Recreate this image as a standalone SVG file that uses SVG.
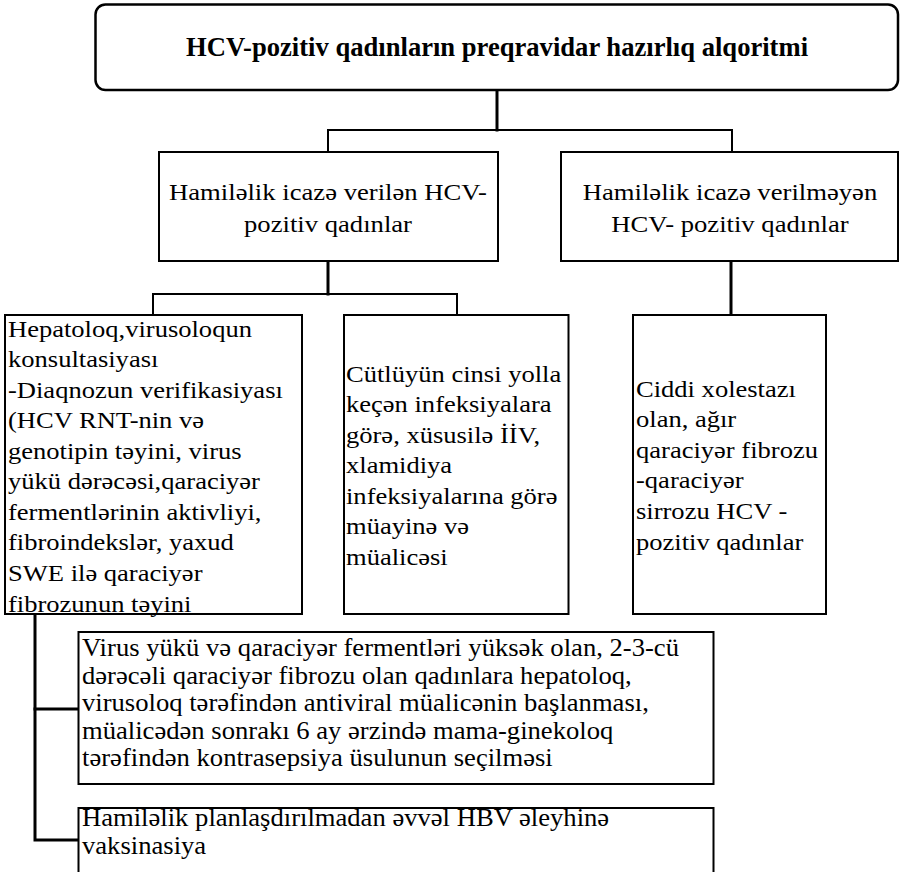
<svg xmlns="http://www.w3.org/2000/svg" width="901" height="872" viewBox="0 0 901 872">
<style>
.box{fill:#fff;stroke:#000;stroke-width:2}
.title-box{fill:#fff;stroke:#000;stroke-width:2.5}
.t{font-family:"Liberation Serif","DejaVu Serif",serif;fill:#000}
.tb{font-family:"Liberation Serif","DejaVu Serif",serif;font-weight:bold;fill:#000}
.c{fill:none;stroke:#000;stroke-linecap:square}
.thick{stroke-width:3}
.thin{stroke-width:2}
</style>
<rect x="0" y="0" width="901" height="872" fill="#fff"/>
<g id="connectors">
<path class="c thick" d="M497 90 V130"/>
<path class="c thin" d="M328 152 V130 H732 V152"/>
<path class="c thick" d="M328 261 V294"/>
<path class="c thin" d="M153 315 V294 H457 V315"/>
<path class="c thick" d="M731 261 V315"/>
<path class="c thick" d="M35 614 V840 H78"/>
<path class="c thick" d="M35 709 H78"/>
</g>
<g id="node-title">
<rect class="title-box" x="95.5" y="4.5" width="802.5" height="85.5" rx="10"/>
<text class="tb" x="497" y="56" font-size="26.6" text-anchor="middle">HCV-pozitiv qadınların preqravidar hazırlıq alqoritmi</text>
</g>
<g id="node-allowed">
<rect class="box" x="159" y="152" width="339" height="109"/>
<g transform="translate(328 0) scale(1.185 1)">
<text class="t" font-size="22.5" text-anchor="middle"><tspan x="0" y="200">Hamiləlik icazə verilən HCV-</tspan><tspan x="0" y="232">pozitiv qadınlar</tspan></text>
</g>
</g>
<g id="node-not-allowed">
<rect class="box" x="561" y="152" width="337" height="109"/>
<g transform="translate(730 0) scale(1.185 1)">
<text class="t" font-size="22.5" text-anchor="middle"><tspan x="0" y="200">Hamiləlik icazə verilməyən</tspan><tspan x="0" y="232">HCV- pozitiv qadınlar</tspan></text>
</g>
</g>
<g id="node-hepatolog">
<rect class="box" x="5" y="315" width="297" height="299"/>
<g transform="translate(8 0) scale(1.18 1)">
<text class="t" font-size="22.5"><tspan x="0" y="336.7">Hepatoloq,virusoloqun</tspan><tspan x="0" y="367.2">konsultasiyası</tspan><tspan x="0" y="397.8">-Diaqnozun verifikasiyası</tspan><tspan x="0" y="428.3">(HCV RNT-nin və</tspan><tspan x="0" y="458.9">genotipin təyini, virus</tspan><tspan x="0" y="489.4">yükü dərəcəsi,qaraciyər</tspan><tspan x="0" y="520">fermentlərinin aktivliyi,</tspan><tspan x="0" y="550.5">fibroindekslər, yaxud</tspan><tspan x="0" y="581.1">SWE ilə qaraciyər</tspan><tspan x="0" y="611.6">fibrozunun təyini</tspan></text>
</g>
</g>
<g id="node-infections">
<rect class="box" x="344" y="315" width="224.5" height="299"/>
<g transform="translate(346 0) scale(1.18 1)">
<text class="t" font-size="22.5"><tspan x="0" y="381.7">Cütlüyün cinsi yolla</tspan><tspan x="0" y="412.2">keçən infeksiyalara</tspan><tspan x="0" y="442.8">görə, xüsusilə İİV,</tspan><tspan x="0" y="473.3">xlamidiya</tspan><tspan x="0" y="503.9">infeksiyalarına görə</tspan><tspan x="0" y="534.4">müayinə və</tspan><tspan x="0" y="565">müalicəsi</tspan></text>
</g>
</g>
<g id="node-cirrhosis">
<rect class="box" x="633" y="315" width="193" height="299"/>
<g transform="translate(636 0) scale(1.18 1)">
<text class="t" font-size="22.5"><tspan x="0" y="396.7">Ciddi xolestazı</tspan><tspan x="0" y="427.3">olan, ağır</tspan><tspan x="0" y="457.9">qaraciyər fibrozu</tspan><tspan x="0" y="488.5">-qaraciyər</tspan><tspan x="0" y="519.1">sirrozu HCV -</tspan><tspan x="0" y="549.7">pozitiv qadınlar</tspan></text>
</g>
</g>
<g id="node-antiviral">
<rect class="box" x="78.5" y="632" width="635" height="152"/>
<g transform="translate(82 0) scale(1.065 1)">
<text class="t" font-size="25"><tspan x="0" y="656">Virus yükü və qaraciyər fermentləri yüksək olan, 2-3-cü</tspan><tspan x="0" y="683.6">dərəcəli qaraciyər fibrozu olan qadınlara hepatoloq,</tspan><tspan x="0" y="711.2">virusoloq tərəfindən antiviral müalicənin başlanması,</tspan><tspan x="0" y="738.8">müalicədən sonrakı 6 ay ərzində mama-ginekoloq</tspan><tspan x="0" y="766.4">tərəfindən kontrasepsiya üsulunun seçilməsi</tspan></text>
</g>
</g>
<g id="node-vaccination">
<rect class="box" x="78.5" y="808" width="635" height="80"/>
<g transform="translate(82 0) scale(1.065 1)">
<text class="t" font-size="25"><tspan x="0" y="826">Hamiləlik planlaşdırılmadan əvvəl HBV əleyhinə</tspan><tspan x="0" y="854">vaksinasiya</tspan></text>
</g>
</g>
</svg>
